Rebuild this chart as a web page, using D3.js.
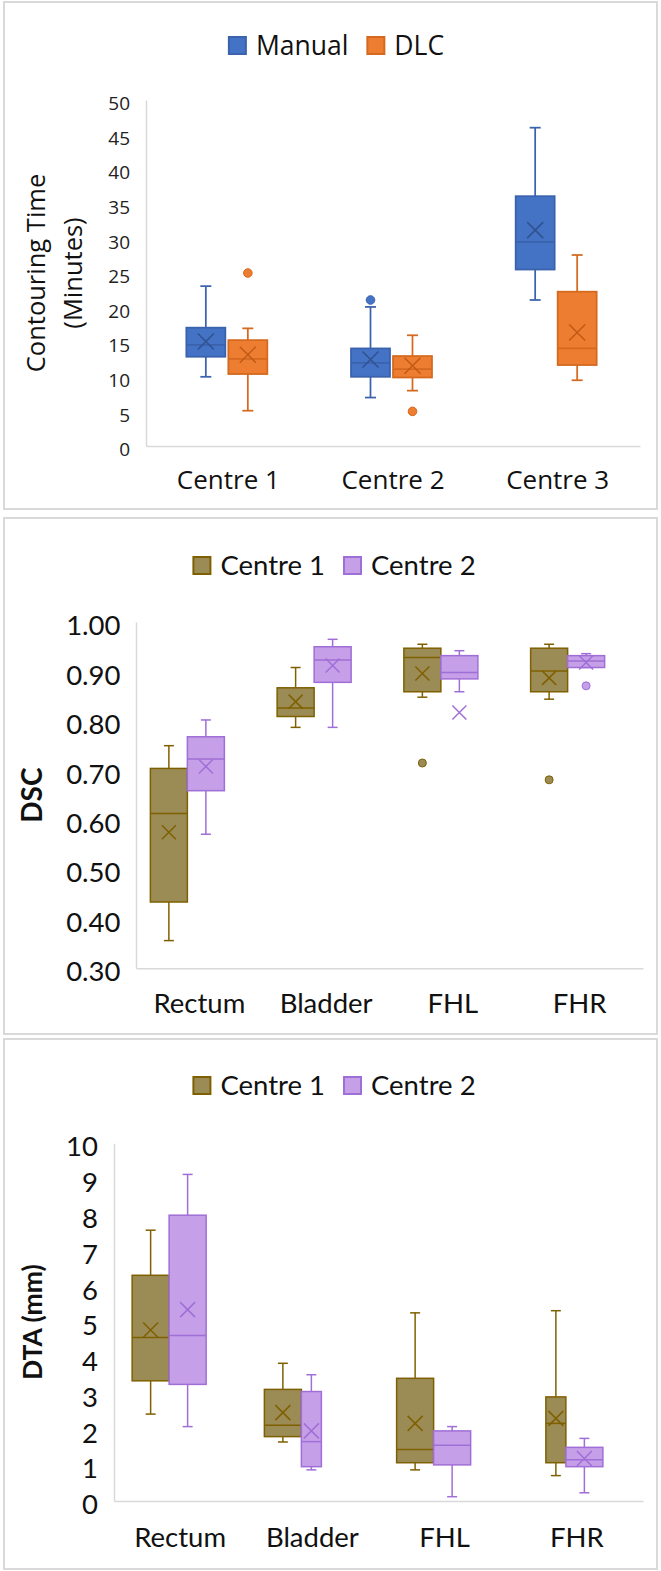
<!DOCTYPE html>
<html>
<head>
<meta charset="utf-8">
<title>Contouring time, DSC and DTA</title>
<script src="https://cdnjs.cloudflare.com/ajax/libs/d3/7.8.5/d3.min.js"></script>
<style>
body { margin: 0; background: #fff; }
svg { display: block; }
.frame { fill: #fff; stroke: #d9d9d9; stroke-width: 2; }
.axis .domain { stroke: #d9d9d9; stroke-width: 1.5; }
</style>
</head>
<body>
<svg id="chart" width="661" height="1571"></svg>
<script>
// ---- data ----
// every stats row is [min, q1, median, q3, max, mean]
var timeCentres = ["Centre 1", "Centre 2", "Centre 3"];
var timeSeries = ["Manual", "DLC"];
var manualTime = [[10.0, 12.9, 14.6, 17.1, 23.1, 15.1], [7.0, 10.0, 12.0, 14.1, 20.1, 12.5], [21.1, 25.5, 29.5, 36.1, 46.0, 31.2]];
var manualTimeOut = [[], [21.1], []];
var dlcTime = [[5.1, 10.4, 12.6, 15.3, 17.0, 13.2], [8.0, 9.9, 11.1, 13.0, 16.0, 11.6], [9.5, 11.7, 14.1, 22.3, 27.6, 16.4]];
var dlcTimeOut = [[25.0], [5.0], []];
var timeTicks = [0, 5, 10, 15, 20, 25, 30, 35, 40, 45, 50];

var organs = ["Rectum", "Bladder", "FHL", "FHR"];
var centreSeries = ["Centre 1", "Centre 2"];
var dscCentre1 = [[0.356, 0.434, 0.613, 0.704, 0.750, 0.575], [0.787, 0.809, 0.826, 0.867, 0.908, 0.839], [0.848, 0.859, 0.928, 0.947, 0.955, 0.896], [0.844, 0.859, 0.901, 0.947, 0.955, 0.887]];
var dscCentre1Out = [[], [], [0.715], [0.681]];
var dscCentre2 = [[0.571, 0.659, 0.723, 0.768, 0.802, 0.708], [0.787, 0.878, 0.923, 0.950, 0.965, 0.912], [0.859, 0.885, 0.898, 0.932, 0.942, 0.817], [0.908, 0.908, 0.921, 0.932, 0.936, 0.918]];
var dscCentre2Out = [[], [], [], [0.871]];
var dscTicks = [0.3, 0.4, 0.5, 0.6, 0.7, 0.8, 0.9, 1.0];

var dtaCentre1 = [[2.43, 3.36, 4.57, 6.31, 7.57, 4.78], [1.65, 1.80, 2.12, 3.12, 3.85, 2.47], [0.87, 1.07, 1.44, 3.43, 5.26, 2.17], [0.71, 1.07, 2.17, 2.91, 5.32, 2.31]];
var dtaCentre1Out = [[], [], [], []];
var dtaCentre2 = [[2.08, 3.26, 4.63, 7.99, 9.13, 5.35], [0.87, 0.96, 1.66, 3.06, 3.53, 1.96], [0.12, 1.01, 1.56, 1.96, 2.08, null], [0.23, 0.96, 1.15, 1.50, 1.75, 1.19]];
var dtaCentre2Out = [[], [], [], []];
var dtaTicks = [0, 1, 2, 3, 4, 5, 6, 7, 8, 9, 10];

// ---- styles ----
var blue = { fill: "#4472c4", stroke: "#3a62ad", mark: "#2f528f" };
var orange = { fill: "#ed7d31", stroke: "#d4691f", mark: "#c05a14" };
var olive = { fill: "#9b8b55", stroke: "#7f6000", mark: "#7f6000" };
var purple = { fill: "#c5a0e8", stroke: "#a06ed7", mark: "#a06ed7" };

var svg = d3.select("#chart");

function drawPanel(p) {
  svg.append("rect").attr("class", "frame")
    .attr("x", p.frame[0]).attr("y", p.frame[1])
    .attr("width", p.frame[2]).attr("height", p.frame[3]);

  var x = d3.scaleBand().domain(p.cats).range([p.left, p.right]);
  var y = d3.scaleLinear().domain(p.domain).range([p.bottom, p.top]);

  // y axis
  var ya = svg.append("g").attr("class", "axis")
    .attr("transform", "translate(" + p.left + ",0)")
    .call(d3.axisLeft(y).tickValues(p.ticks).tickSize(0).tickSizeOuter(0).tickFormat(p.fmt));
  ya.selectAll("text")
    .attr("x", -(p.left - p.labelRight)).attr("dy", "0.35em")
    .attr("transform", "translate(0,3)")
    .style("font-family", p.font).style("font-size", p.tickSize + "px").style("fill", p.tickColor);

  // x axis
  var xa = svg.append("g").attr("class", "axis")
    .attr("transform", "translate(0," + p.bottom + ")")
    .call(d3.axisBottom(x).tickSize(0).tickSizeOuter(0));
  xa.selectAll("text")
    .attr("y", p.catBaseline - p.bottom).attr("dy", null)
    .style("font-family", p.font).style("font-size", p.catSize + "px").style("fill", "#111");

  // boxes
  p.series.forEach(function (s, j) {
    var g = svg.append("g");
    p.cats.forEach(function (c, i) {
      var st = s.stats[i];
      var w = p.boxW;
      if (p.narrow && p.narrow[c + "|" + s.name]) w = p.narrowW;
      var mid = x(c) + x.bandwidth() / 2 + p.shift;
      var left = j === 0 ? mid - p.gap / 2 - w : mid + p.gap / 2;
      var cx = left + w / 2;
      var col = s.color;
      // whiskers
      [[st[4], st[3]], [st[1], st[0]]].forEach(function (seg) {
        g.append("line").attr("x1", cx).attr("x2", cx)
          .attr("y1", y(seg[0])).attr("y2", y(seg[1]))
          .attr("stroke", col.stroke).attr("stroke-width", p.lw);
      });
      [st[0], st[4]].forEach(function (v) {
        g.append("line").attr("x1", cx - p.capW / 2).attr("x2", cx + p.capW / 2)
          .attr("y1", y(v)).attr("y2", y(v))
          .attr("stroke", col.stroke).attr("stroke-width", p.lw);
      });
      g.append("rect").attr("x", left).attr("y", y(st[3]))
        .attr("width", w).attr("height", y(st[1]) - y(st[3]))
        .attr("fill", col.fill).attr("stroke", col.stroke).attr("stroke-width", p.lw);
      g.append("line").attr("x1", left).attr("x2", left + w)
        .attr("y1", y(st[2])).attr("y2", y(st[2]))
        .attr("stroke", col.stroke).attr("stroke-width", p.lw);
      if (st[5] != null) {
        var my = y(st[5]), h = p.xHalf;
        g.append("path")
          .attr("d", "M" + (cx - h) + "," + (my - h) + "L" + (cx + h) + "," + (my + h) +
                     "M" + (cx - h) + "," + (my + h) + "L" + (cx + h) + "," + (my - h))
          .attr("stroke", col.mark).attr("stroke-width", 1.5).attr("fill", "none");
      }
      s.out[i].forEach(function (v) {
        g.append("circle").attr("cx", cx).attr("cy", y(v)).attr("r", p.outR)
          .attr("fill", col.fill).attr("stroke", col.stroke).attr("stroke-width", 1);
      });
    });
  });

  // legend
  var lg = svg.append("g");
  var cursor = 0;
  p.series.forEach(function (s) {
    lg.append("rect").attr("x", cursor + 1).attr("y", p.legendTop + 1)
      .attr("width", p.sq - 2).attr("height", p.sq - 2)
      .attr("fill", s.color.fill).attr("stroke", s.color.stroke).attr("stroke-width", 2);
    var t = lg.append("text").attr("x", cursor + p.sq + 9).attr("y", p.legendTop + p.sq)
      .text(s.name).style("font-family", p.font).style("font-size", p.legendSize + "px").style("fill", "#111");
    cursor += p.sq + 9 + t.node().getComputedTextLength() + 18;
  });
  cursor -= 18;
  lg.attr("transform", "translate(" + (p.legendCx - cursor / 2) + ",0)");

  // y title
  var cy = (p.top + p.bottom) / 2;
  p.title.forEach(function (line, k) {
    svg.append("text")
      .attr("transform", "translate(" + p.titleX[k] + "," + cy + ") rotate(-90)")
      .attr("text-anchor", "middle")
      .text(line)
      .style("font-family", p.font).style("font-size", p.titleSize + "px")
      .style("font-weight", p.titleWeight).style("fill", "#111");
  });
}

drawPanel({
  frame: [4, 2, 653, 507],
  left: 146, right: 640, top: 100, bottom: 446,
  cats: timeCentres, domain: [0, 50], ticks: timeTicks, fmt: d3.format("d"),
  font: "'Open Sans', sans-serif", tickSize: 19, tickColor: "#222", labelRight: 130,
  catSize: 26, catBaseline: 489,
  series: [
    { name: timeSeries[0], stats: manualTime, out: manualTimeOut, color: blue },
    { name: timeSeries[1], stats: dlcTime, out: dlcTimeOut, color: orange }
  ],
  boxW: 39, gap: 3, shift: -1.5, capW: 11, lw: 1.75, xHalf: 8, outR: 4.3,
  legendTop: 36, legendCx: 336, sq: 19, legendSize: 26.5,
  title: ["Contouring Time", "(Minutes)"], titleX: [45, 82], titleSize: 25.5, titleWeight: "normal"
});

drawPanel({
  frame: [4, 518, 653, 516],
  left: 136, right: 643, top: 622, bottom: 968.3,
  cats: organs, domain: [0.3, 1.0], ticks: dscTicks, fmt: d3.format(".2f"),
  font: "Lato, sans-serif", tickSize: 27.5, tickColor: "#111", labelRight: 120.5,
  catSize: 27.5, catBaseline: 1013,
  series: [
    { name: centreSeries[0], stats: dscCentre1, out: dscCentre1Out, color: olive },
    { name: centreSeries[1], stats: dscCentre2, out: dscCentre2Out, color: purple }
  ],
  boxW: 37, gap: 0, shift: -12, capW: 10, lw: 1.5, xHalf: 7, outR: 4,
  legendTop: 556, legendCx: 334, sq: 19, legendSize: 27.5,
  title: ["DSC"], titleX: [42], titleSize: 28, titleWeight: "bold"
});

drawPanel({
  frame: [4, 1039, 653, 530],
  left: 114, right: 643, top: 1143.3, bottom: 1501,
  cats: organs, domain: [0, 10], ticks: dtaTicks, fmt: d3.format("d"),
  font: "Lato, sans-serif", tickSize: 27.5, tickColor: "#111", labelRight: 98,
  catSize: 27.5, catBaseline: 1547,
  series: [
    { name: centreSeries[0], stats: dtaCentre1, out: dtaCentre1Out, color: olive },
    { name: centreSeries[1], stats: dtaCentre2, out: dtaCentre2Out, color: purple }
  ],
  boxW: 37, gap: 0, shift: -11, capW: 10, lw: 1.5, xHalf: 7.5, outR: 4,
  narrow: { "Bladder|Centre 2": true, "FHR|Centre 1": true }, narrowW: 20,
  legendTop: 1076, legendCx: 334, sq: 19, legendSize: 27.5,
  title: ["DTA (mm)"], titleX: [42], titleSize: 26.5, titleWeight: "bold"
});
</script>
</body>
</html>
